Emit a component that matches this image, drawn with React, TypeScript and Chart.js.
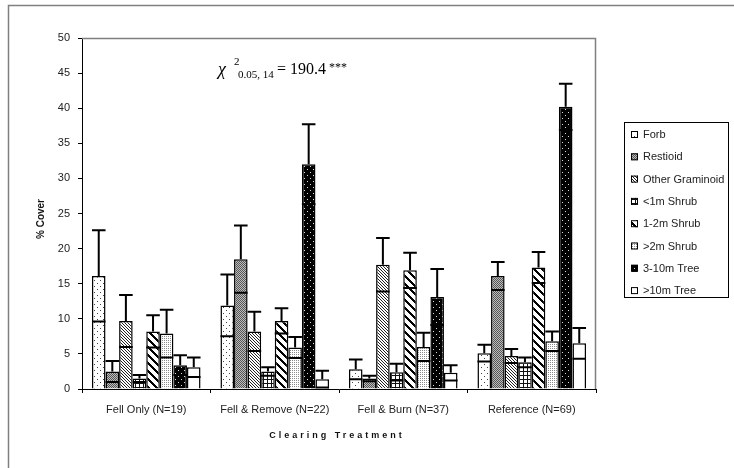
import React, { useEffect, useRef } from "react";
import { Chart, registerables } from "chart.js";

Chart.register(...registerables);

const categories = ["Fell Only (N=19)", "Fell & Remove (N=22)", "Fell & Burn (N=37)", "Reference (N=69)"];
const seriesNames = ["Forb", "Restioid", "Other Graminoid", "<1m Shrub", "1-2m Shrub", ">2m Shrub", "3-10m Tree", ">10m Tree"];

const forb = [16.1, 11.9, 2.8, 5.1];
const forbSE = [6.5, 4.4, 1.4, 1.2];
const restioid = [2.5, 18.5, 1.5, 16.1];
const restioidSE = [1.5, 4.8, 0.4, 2.0];
const otherGraminoid = [9.7, 8.2, 17.7, 4.7];
const otherGraminoidSE = [3.7, 2.8, 3.8, 1.0];
const shrubLt1 = [1.5, 2.5, 2.4, 3.8];
const shrubLt1SE = [0.5, 0.6, 1.2, 0.7];
const shrub1to2 = [8.2, 9.7, 16.9, 17.3];
const shrub1to2SE = [2.3, 1.8, 2.5, 2.2];
const shrubGt2 = [7.9, 5.9, 6.0, 6.8];
const shrubGt2SE = [3.4, 1.5, 2.0, 1.4];
const tree3to10 = [3.4, 32.0, 13.1, 40.2];
const tree3to10SE = [1.4, 5.7, 4.0, 3.3];
const treeGt10 = [3.1, 1.4, 2.3, 6.5];
const treeGt10SE = [1.4, 1.2, 1.1, 2.2];

const yTicks = [0, 5, 10, 15, 20, 25, 30, 35, 40, 45, 50];

const seriesValues = [forb, restioid, otherGraminoid, shrubLt1, shrub1to2, shrubGt2, tree3to10, treeGt10];
const seriesErrors = [forbSE, restioidSE, otherGraminoidSE, shrubLt1SE, shrub1to2SE, shrubGt2SE, tree3to10SE, treeGt10SE];

function makePattern(size: number, draw: (c: CanvasRenderingContext2D) => void): CanvasPattern | string {
  const cv = document.createElement("canvas");
  cv.width = size;
  cv.height = size;
  const c = cv.getContext("2d")!;
  draw(c);
  const ctx = document.createElement("canvas").getContext("2d")!;
  return ctx.createPattern(cv, "repeat") || "#fff";
}

function buildPatterns() {
  const px = (c: CanvasRenderingContext2D, x: number, y: number, col: string) => {
    c.fillStyle = col;
    c.fillRect(x, y, 1, 1);
  };
  const forbP = makePattern(6, (c) => {
    c.fillStyle = "#fff"; c.fillRect(0, 0, 6, 6);
    px(c, 1, 1, "#444"); px(c, 4, 4, "#444");
  });
  const restP = makePattern(2, (c) => {
    c.fillStyle = "#bdbdbd"; c.fillRect(0, 0, 2, 2);
    px(c, 0, 0, "#555"); px(c, 1, 1, "#555");
  });
  const ogP = makePattern(3, (c) => {
    c.fillStyle = "#fff"; c.fillRect(0, 0, 3, 3);
    px(c, 0, 0, "#222"); px(c, 1, 1, "#222"); px(c, 2, 2, "#222");
  });
  const gridP = makePattern(4, (c) => {
    c.fillStyle = "#fff"; c.fillRect(0, 0, 4, 4);
    c.fillStyle = "#111"; c.fillRect(0, 3, 4, 1); c.fillRect(3, 0, 1, 4);
  });
  const wideP = makePattern(8, (c) => {
    c.fillStyle = "#fff"; c.fillRect(0, 0, 8, 8);
    c.fillStyle = "#000";
    for (let y = 0; y < 8; y++) {
      for (let k = 0; k < 3; k++) c.fillRect((y + k) % 8, y, 1, 1);
    }
  });
  const ltDotP = makePattern(2, (c) => {
    c.fillStyle = "#fff"; c.fillRect(0, 0, 2, 2);
    px(c, 0, 0, "#8a8a8a");
  });
  const blackP = makePattern(6, (c) => {
    c.fillStyle = "#000"; c.fillRect(0, 0, 6, 6);
    px(c, 1, 1, "#ddd"); px(c, 4, 4, "#ddd");
  });
  return [forbP, restP, ogP, gridP, wideP, ltDotP, blackP, "#ffffff"];
}

export default function App() {
  const ref = useRef<HTMLCanvasElement>(null);
  useEffect(() => {
    if (!ref.current) return;
    const patterns = buildPatterns();
    const sansFont = "'Liberation Sans', Arial, sans-serif";
    const serifFont = "'Liberation Serif', 'Times New Roman', serif";

    const decorPlugin = {
      id: "decor",
      afterDatasetsDraw(chart: any) {
        const ctx = chart.ctx as CanvasRenderingContext2D;
        const yScale = chart.scales.y;
        ctx.save();
        ctx.strokeStyle = "#000";
        ctx.lineWidth = 2;
        chart.data.datasets.forEach((ds: any, i: number) => {
          const meta = chart.getDatasetMeta(i);
          meta.data.forEach((el: any, j: number) => {
            const v = seriesValues[i][j];
            const e = seriesErrors[i][j];
            const x = el.x;
            const w = el.width;
            const yTop = yScale.getPixelForValue(v + e);
            const yLow = yScale.getPixelForValue(v - e);
            const yBar = el.y;
            ctx.beginPath();
            ctx.moveTo(x, yBar);
            ctx.lineTo(x, yTop);
            ctx.moveTo(x - w / 2, yTop);
            ctx.lineTo(x + w / 2, yTop);
            ctx.moveTo(x - w / 2, yLow);
            ctx.lineTo(x + w / 2, yLow);
            ctx.stroke();
          });
        });
        ctx.restore();
      },
      afterDraw(chart: any) {
        const ctx = chart.ctx as CanvasRenderingContext2D;
        const ca = chart.chartArea;
        ctx.save();
        // outer frame
        ctx.strokeStyle = "#808080";
        ctx.lineWidth = 1.5;
        ctx.beginPath();
        ctx.moveTo(734, 5.5);
        ctx.lineTo(8.5, 5.5);
        ctx.lineTo(8.5, 468);
        ctx.stroke();
        // plot area top/right border
        ctx.lineWidth = 1.5;
        ctx.beginPath();
        ctx.moveTo(ca.left, ca.top + 0.5);
        ctx.lineTo(ca.right - 0.5, ca.top + 0.5);
        ctx.lineTo(ca.right - 0.5, ca.bottom);
        ctx.stroke();

        // legend
        ctx.strokeStyle = "#000";
        ctx.lineWidth = 1;
        ctx.strokeRect(624.5, 122.5, 104, 175);
        ctx.font = `11px ${sansFont}`;
        ctx.textBaseline = "middle";
        ctx.textAlign = "left";
        seriesNames.forEach((name, i) => {
          const y = 135 + i * 22.3;
          ctx.fillStyle = patterns[i] as any;
          ctx.fillRect(631, y - 4, 7, 7);
          ctx.strokeStyle = "#000";
          ctx.lineWidth = 1;
          ctx.strokeRect(631.5, y - 3.5, 6, 6);
          ctx.fillStyle = "#222";
          ctx.fillText(name, 643, y);
        });

        // y title
        ctx.save();
        ctx.translate(41, 219);
        ctx.rotate(-Math.PI / 2);
        ctx.font = `bold 10px ${sansFont}`;
        ctx.textAlign = "center";
        ctx.textBaseline = "middle";
        ctx.fillStyle = "#111";
        ctx.fillText("% Cover", 0, 0);
        ctx.restore();

        // x title
        ctx.font = `bold 9px ${sansFont}`;
        (ctx as any).letterSpacing = "3px";
        ctx.textAlign = "center";
        ctx.textBaseline = "middle";
        ctx.fillStyle = "#111";
        ctx.fillText("Clearing Treatment", 337, 436);
        (ctx as any).letterSpacing = "0px";

        // chi-square annotation
        ctx.textAlign = "left";
        ctx.textBaseline = "alphabetic";
        ctx.fillStyle = "#000";
        ctx.font = `italic 18px ${serifFont}`;
        ctx.fillText("χ", 218, 75);
        ctx.font = `11px ${serifFont}`;
        ctx.fillText("2", 234, 65);
        ctx.fillText("0.05, 14", 238, 78);
        ctx.font = `16px ${serifFont}`;
        ctx.fillText("= 190.4", 277, 74);
        ctx.font = `12px ${serifFont}`;
        ctx.fillText("***", 329, 71);
        ctx.restore();
      },
    };

    const chart = new Chart(ref.current, {
      type: "bar",
      data: {
        labels: categories,
        datasets: seriesNames.map((name, i) => ({
          label: name,
          data: seriesValues[i],
          backgroundColor: patterns[i] as any,
          borderColor: "#000",
          borderWidth: 1.5,
          categoryPercentage: 0.845,
          barPercentage: 1.0,
        })),
      },
      options: {
        responsive: false,
        animation: false,
        layout: { padding: { top: 38, right: 138, bottom: 0, left: 0 } },
        plugins: {
          legend: { display: false },
          tooltip: { enabled: false },
        },
        scales: {
          x: {
            grid: { display: true, drawOnChartArea: false, drawTicks: true, tickLength: 4, color: "#000", offset: true },
            border: { color: "#000", width: 1 },
            ticks: { font: { family: sansFont, size: 11 }, color: "#222", padding: 10, maxRotation: 0, autoSkip: false },
            afterFit: (s: any) => { s.height = 79; },
          },
          y: {
            min: 0,
            max: 50,
            afterBuildTicks: (s: any) => { s.ticks = yTicks.map((v) => ({ value: v })); },
            grid: { display: true, drawOnChartArea: false, drawTicks: true, tickLength: 4, color: "#000" },
            border: { color: "#000", width: 1 },
            ticks: { font: { family: sansFont, size: 11 }, color: "#222", padding: 8 },
            afterFit: (s: any) => { s.width = 82; },
          },
        },
      },
      plugins: [decorPlugin],
    });
    return () => chart.destroy();
  }, []);

  return (
    <div style={{ position: "fixed", left: 0, top: 0, width: 734, height: 468, background: "#fff" }}>
      <canvas ref={ref} width={734} height={468} style={{ display: "block" }} />
    </div>
  );
}
